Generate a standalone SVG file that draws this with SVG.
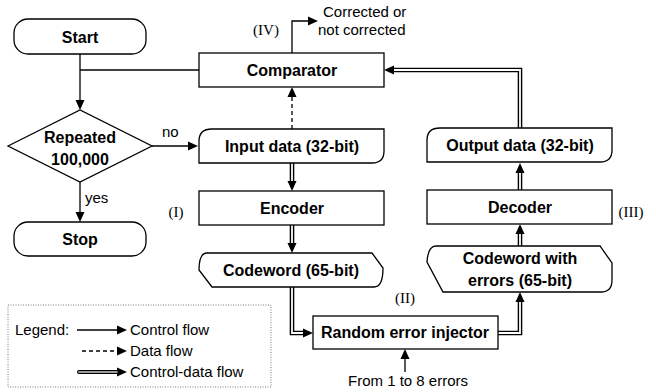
<svg xmlns="http://www.w3.org/2000/svg" width="656" height="392" viewBox="0 0 656 392">
<defs>
<marker id="ah" markerUnits="userSpaceOnUse" markerWidth="11" markerHeight="10" refX="0" refY="4.5" orient="auto" overflow="visible">
<path d="M0,0 L10,4.5 L0,9 z" fill="#000"/>
</marker>
<style>
.node{fill:#fff;stroke:#000;stroke-width:1.3}
.lbl{font-family:"Liberation Sans",Arial,sans-serif;font-weight:bold;font-size:16px;fill:#000;text-anchor:middle}
.txt{font-family:"Liberation Sans",Arial,sans-serif;font-size:15px;fill:#000}
.rom{font-family:"Liberation Serif","Times New Roman",serif;font-size:15px;fill:#000;text-anchor:middle}
.ln{fill:none;stroke:#000;stroke-width:1.3}
.dbl{fill:none;stroke:#000;stroke-width:4.6}
.dbw{fill:none;stroke:#fff;stroke-width:1.8}
</style>
</defs>
<rect width="656" height="392" fill="#fff"/>

<g id="connectors">
<path class="ln" d="M80,54 V100" marker-end="url(#ah)"/>
<path class="ln" d="M80,70 H199"/>
<path class="ln" d="M152,146 H188" marker-end="url(#ah)"/>
<path class="ln" d="M80,182 V212" marker-end="url(#ah)"/>
<path class="ln" d="M292,53 V21 H308" marker-end="url(#ah)"/>
<path class="ln" d="M292,129 V97" stroke-dasharray="4,3" marker-end="url(#ah)"/>
<path class="dbl" d="M292,163 V181" marker-end="url(#ah)"/>
<path class="dbw" d="M292,163 V181"/>
<path class="dbl" d="M292,225 V243" marker-end="url(#ah)"/>
<path class="dbw" d="M292,225 V243"/>
<path class="dbl" d="M292,287 V333 H303" marker-end="url(#ah)"/>
<path class="dbw" d="M292,287 V333 H303"/>
<path class="dbl" d="M498,333 H520 V302" marker-end="url(#ah)"/>
<path class="dbw" d="M498,333 H520 V302"/>
<path class="dbl" d="M520,246 V234" marker-end="url(#ah)"/>
<path class="dbw" d="M520,246 V234"/>
<path class="dbl" d="M520,190 V173" marker-end="url(#ah)"/>
<path class="dbw" d="M520,190 V173"/>
<path class="dbl" d="M520,128 V70 H394" marker-end="url(#ah)"/>
<path class="dbw" d="M520,128 V70 H394"/>
<path class="ln" d="M405,372 V359" marker-end="url(#ah)"/>
</g>

<g id="start">
<rect class="node" x="14" y="19" width="132" height="35" rx="14"/>
<text class="lbl" x="80" y="42.5">Start</text>
</g>

<g id="decision">
<path class="node" d="M8,146 L80,110 L152,146 L80,182 z"/>
<text class="lbl" x="80" y="143">Repeated</text>
<text class="lbl" x="80" y="165">100,000</text>
</g>

<g id="stop">
<rect class="node" x="14" y="222" width="132" height="34" rx="14"/>
<text class="lbl" x="80" y="244.5">Stop</text>
</g>

<g id="comparator">
<rect class="node" x="199" y="53" width="185" height="34"/>
<text class="lbl" x="292" y="75.5">Comparator</text>
</g>

<g id="input-data">
<path class="node" d="M212,129 H384 V151 Q384,163 372,163 H199 V141 Q199,129 212,129 z"/>
<text class="lbl" x="292" y="151.5">Input data (32-bit)</text>
</g>

<g id="encoder">
<rect class="node" x="199" y="191" width="185" height="34"/>
<text class="lbl" x="292" y="213.5">Encoder</text>
</g>

<g id="codeword">
<path class="node" d="M207,253 H372 L383,268 Q383,287 374,287 H212 L199,270 Q199,253 207,253 z"/>
<text class="lbl" x="291" y="275.5">Codeword (65-bit)</text>
</g>

<g id="injector">
<rect class="node" x="313" y="316" width="185" height="33"/>
<text class="lbl" x="405" y="338">Random error injector</text>
</g>

<g id="codeword-errors">
<path class="node" d="M436,246 H600 L612,263 V280 Q612,292 601,292 H443 L427,262 Q428,246 436,246 z"/>
<text class="lbl" x="520" y="264">Codeword with</text>
<text class="lbl" x="520" y="286">errors (65-bit)</text>
</g>

<g id="decoder">
<rect class="node" x="427" y="190" width="185" height="34"/>
<text class="lbl" x="520" y="212.5">Decoder</text>
</g>

<g id="output-data">
<path class="node" d="M440,128 H612 V150 Q612,162 600,162 H427 V140 Q427,128 440,128 z"/>
<text class="lbl" x="520" y="150.5">Output data (32-bit)</text>
</g>

<g id="labels">
<text class="txt" x="162" y="137">no</text>
<text class="txt" x="85" y="203">yes</text>
<text class="txt" x="323" y="17">Corrected or</text>
<text class="txt" x="318" y="35">not corrected</text>
<text class="txt" x="408" y="386" text-anchor="middle">From 1 to 8 errors</text>
<text class="rom" x="266" y="35">(IV)</text>
<text class="rom" x="176" y="217">(I)</text>
<text class="rom" x="405" y="303">(II)</text>
<text class="rom" x="631" y="217">(III)</text>
</g>

<g id="legend">
<rect x="8" y="305" width="263" height="82" fill="none" stroke="#555" stroke-width="0.8" stroke-dasharray="1,1.5"/>
<text class="txt" x="15" y="335">Legend:</text>
<path class="ln" d="M77,330 H117" marker-end="url(#ah)"/>
<text class="txt" x="130" y="335">Control flow</text>
<path class="ln" d="M82,351 H117" stroke-dasharray="4,3" marker-end="url(#ah)"/>
<text class="txt" x="130" y="356">Data flow</text>
<path fill="none" stroke="#000" stroke-width="4" stroke-linecap="round" d="M79,372 H117" marker-end="url(#ah)"/>
<path fill="none" stroke="#999" stroke-width="1.8" stroke-linecap="round" d="M79,372 H117"/>
<text class="txt" x="130" y="377">Control-data flow</text>
</g>
</svg>
